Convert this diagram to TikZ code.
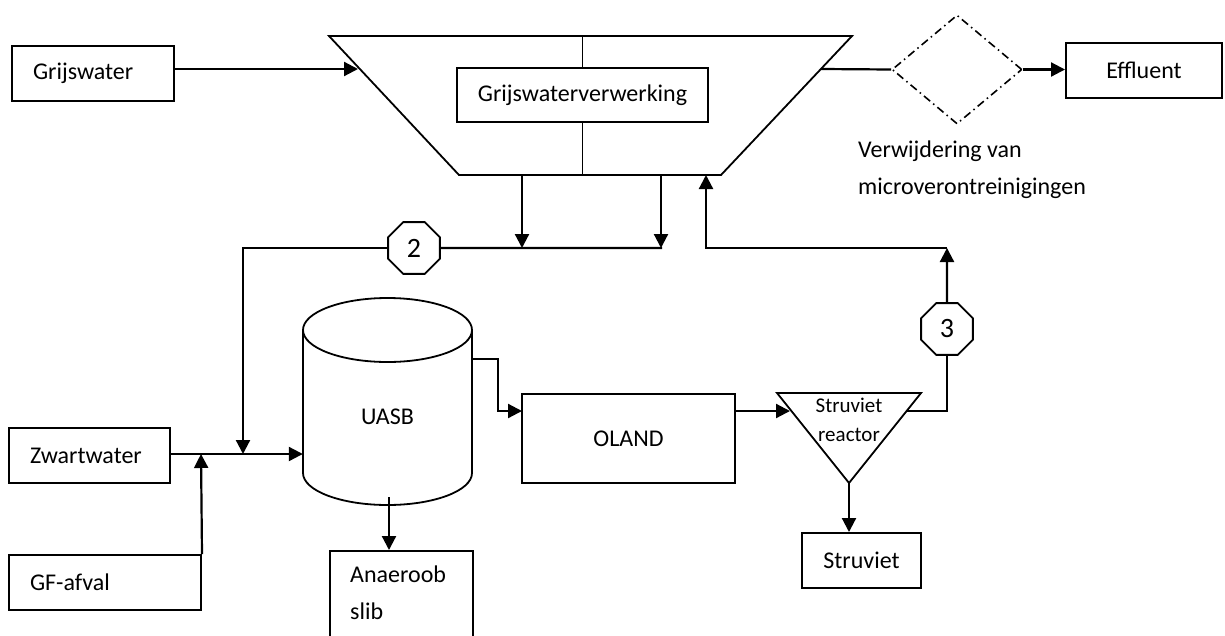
\documentclass[tikz,border=0pt]{standalone}
\usepackage{fontspec}
\setmainfont{Carlito}
\usetikzlibrary{arrows.meta,shapes.geometric}
\begin{document}
\begin{tikzpicture}[x=1pt,y=-1pt,
  box/.style={draw,line width=2pt,rectangle,inner ysep=0pt,font=\fontsize{24}{37}\selectfont},
  lbox/.style={box,align=left,inner xsep=21pt},
  cbox/.style={box,align=center},
  shp/.style={line width=1.8pt},
  conn/.style={line width=2.2pt},
  arr/.style={conn,-{Triangle[length=14pt,width=14pt]}},
  oct/.style={draw,line width=1.8pt,regular polygon,regular polygon sides=8,minimum size=56pt,inner sep=0pt,fill=white,font=\fontsize{28}{30}\selectfont},
  lbl/.style={font=\fontsize{24}{37}\selectfont,inner sep=0pt},
  small/.style={font=\fontsize{21}{29}\selectfont,inner sep=0pt},
  dashdot/.style={line width=1.6pt,dash pattern=on 8pt off 4pt on 1.5pt off 4pt}
]
\useasboundingbox (0,0) rectangle (1225,635);

% ---- boxes
\node[lbox,text width=120pt,minimum height=55pt] (grijs) at (93,73.5) {Grijswater};
\node[lbox,text width=119pt,minimum height=55pt] (zw) at (89.5,455.5) {Zwartwater};
\node[lbox,text width=150pt,minimum height=55pt] (gf) at (105,582.5) {GF-afval};
\node[cbox,minimum width=156pt,minimum height=55pt] (eff) at (1144,70.5) {Effluent};
\node[cbox,minimum width=251pt,minimum height=54pt] (gwv) at (582.5,95) {Grijswaterverwerking};
\node[cbox,minimum width=213pt,minimum height=89pt] (oland) at (628.5,438.5) {OLAND};
\node[cbox,minimum width=119pt,minimum height=55pt] (struv) at (861.5,560.5) {Struviet};
\node[box,minimum width=143pt,minimum height=110pt,anchor=north west] (slib) at (329,550) {};
\node[lbl,anchor=north west,align=left] (slibtxt) at (350,566) {Anaeroob\\slib};

% ---- trapezoid (grey water treatment)
\coordinate (tTL) at (329,36);
\coordinate (tTR) at (852,36);
\coordinate (tBR) at (721,175);
\coordinate (tBL) at (459,175);
\draw[shp] (tTL) -- (tTR) -- (tBR) -- (tBL) -- cycle;
\draw[shp] (gwv.north |- tTL) -- (gwv.north);
\draw[shp] (gwv.south) -- (gwv.south |- tBL);

% ---- diamond
\node[draw,dashdot,diamond,aspect=1.19,minimum width=130pt,minimum height=109pt,inner sep=0pt] (dia) at (957,69.5) {};
\node[lbl,anchor=north west,align=left] (diatxt) at (858,141) {Verwijdering van\\microverontreinigingen};

% ---- UASB cylinder
\node[minimum width=169pt,minimum height=207pt,inner sep=0pt] (uasb) at (387.5,401.5) {};
\draw[shp] (387.5,330) ellipse [x radius=84.5, y radius=32];
\draw[shp] (303,330) -- (303,473) arc[start angle=180,end angle=0,x radius=84.5,y radius=32] -- (472,330);
\node[lbl] (uasbtxt) at (387.5,417) {UASB};

% ---- struvite reactor
\coordinate (rTL) at (777,393);
\coordinate (rTR) at (921,393);
\coordinate (rB) at (849,483);
\draw[shp] (rTL) -- (rTR) -- (rB) -- cycle;
\node[small,align=center] (rtxt) at (849,420) {Struviet\\reactor};

% ---- octagons
\node[oct] (oct2) at (414,248) {2};
\node[oct] (oct3) at (947,329) {3};

% ---- connector coordinates
\coordinate (gin) at (358,69);
\coordinate (tro) at (821,69);
\coordinate (b1) at (522,175);
\coordinate (j1) at (522,248);
\coordinate (b2) at (661,175);
\coordinate (j2) at (662,248);
\coordinate (zwj) at (243,454);
\coordinate (gfj) at (201,454);
\coordinate (zwl) at (170,454);
\coordinate (usl) at (389,497);
\coordinate (slt) at (389,550);
\coordinate (u2o) at (472,359);
\coordinate (oin) at (522,411);
\coordinate (oout) at (735,411);
\coordinate (trl) at (790,411);
\coordinate (trr) at (907,411);
\coordinate (r3) at (947,248);
\coordinate (tin) at (706,175);

% ---- connectors
\draw[arr] (grijs.east |- gin) -- (gin);
\draw[conn] (tro) -- (dia.west);
\draw[arr] (dia.east) -- (eff.west |- dia.east);
\draw[arr] (b1) -- (j1);
\draw[arr] (b2) -- (b2 |- j2);
\draw[conn] (j2) -- (oct2.east);
\draw[arr] (oct2.west) -| (zwj);
\draw[arr] (zwl) -- (uasb.west |- zwl);
\draw[arr] (gf.north east) -- (gfj);
\draw[arr] (usl) -- (slt);
\draw[arr] (u2o) -| (498,411) -- (oin);
\draw[arr] (oout) -- (trl);
\draw[conn] (trr) -| (oct3.south);
\draw[arr] (oct3.north) -- (r3);
\draw[arr] (r3) -| (tin);
\draw[arr] (rB) -- (struv.north -| rB);
\end{tikzpicture}
\end{document}
